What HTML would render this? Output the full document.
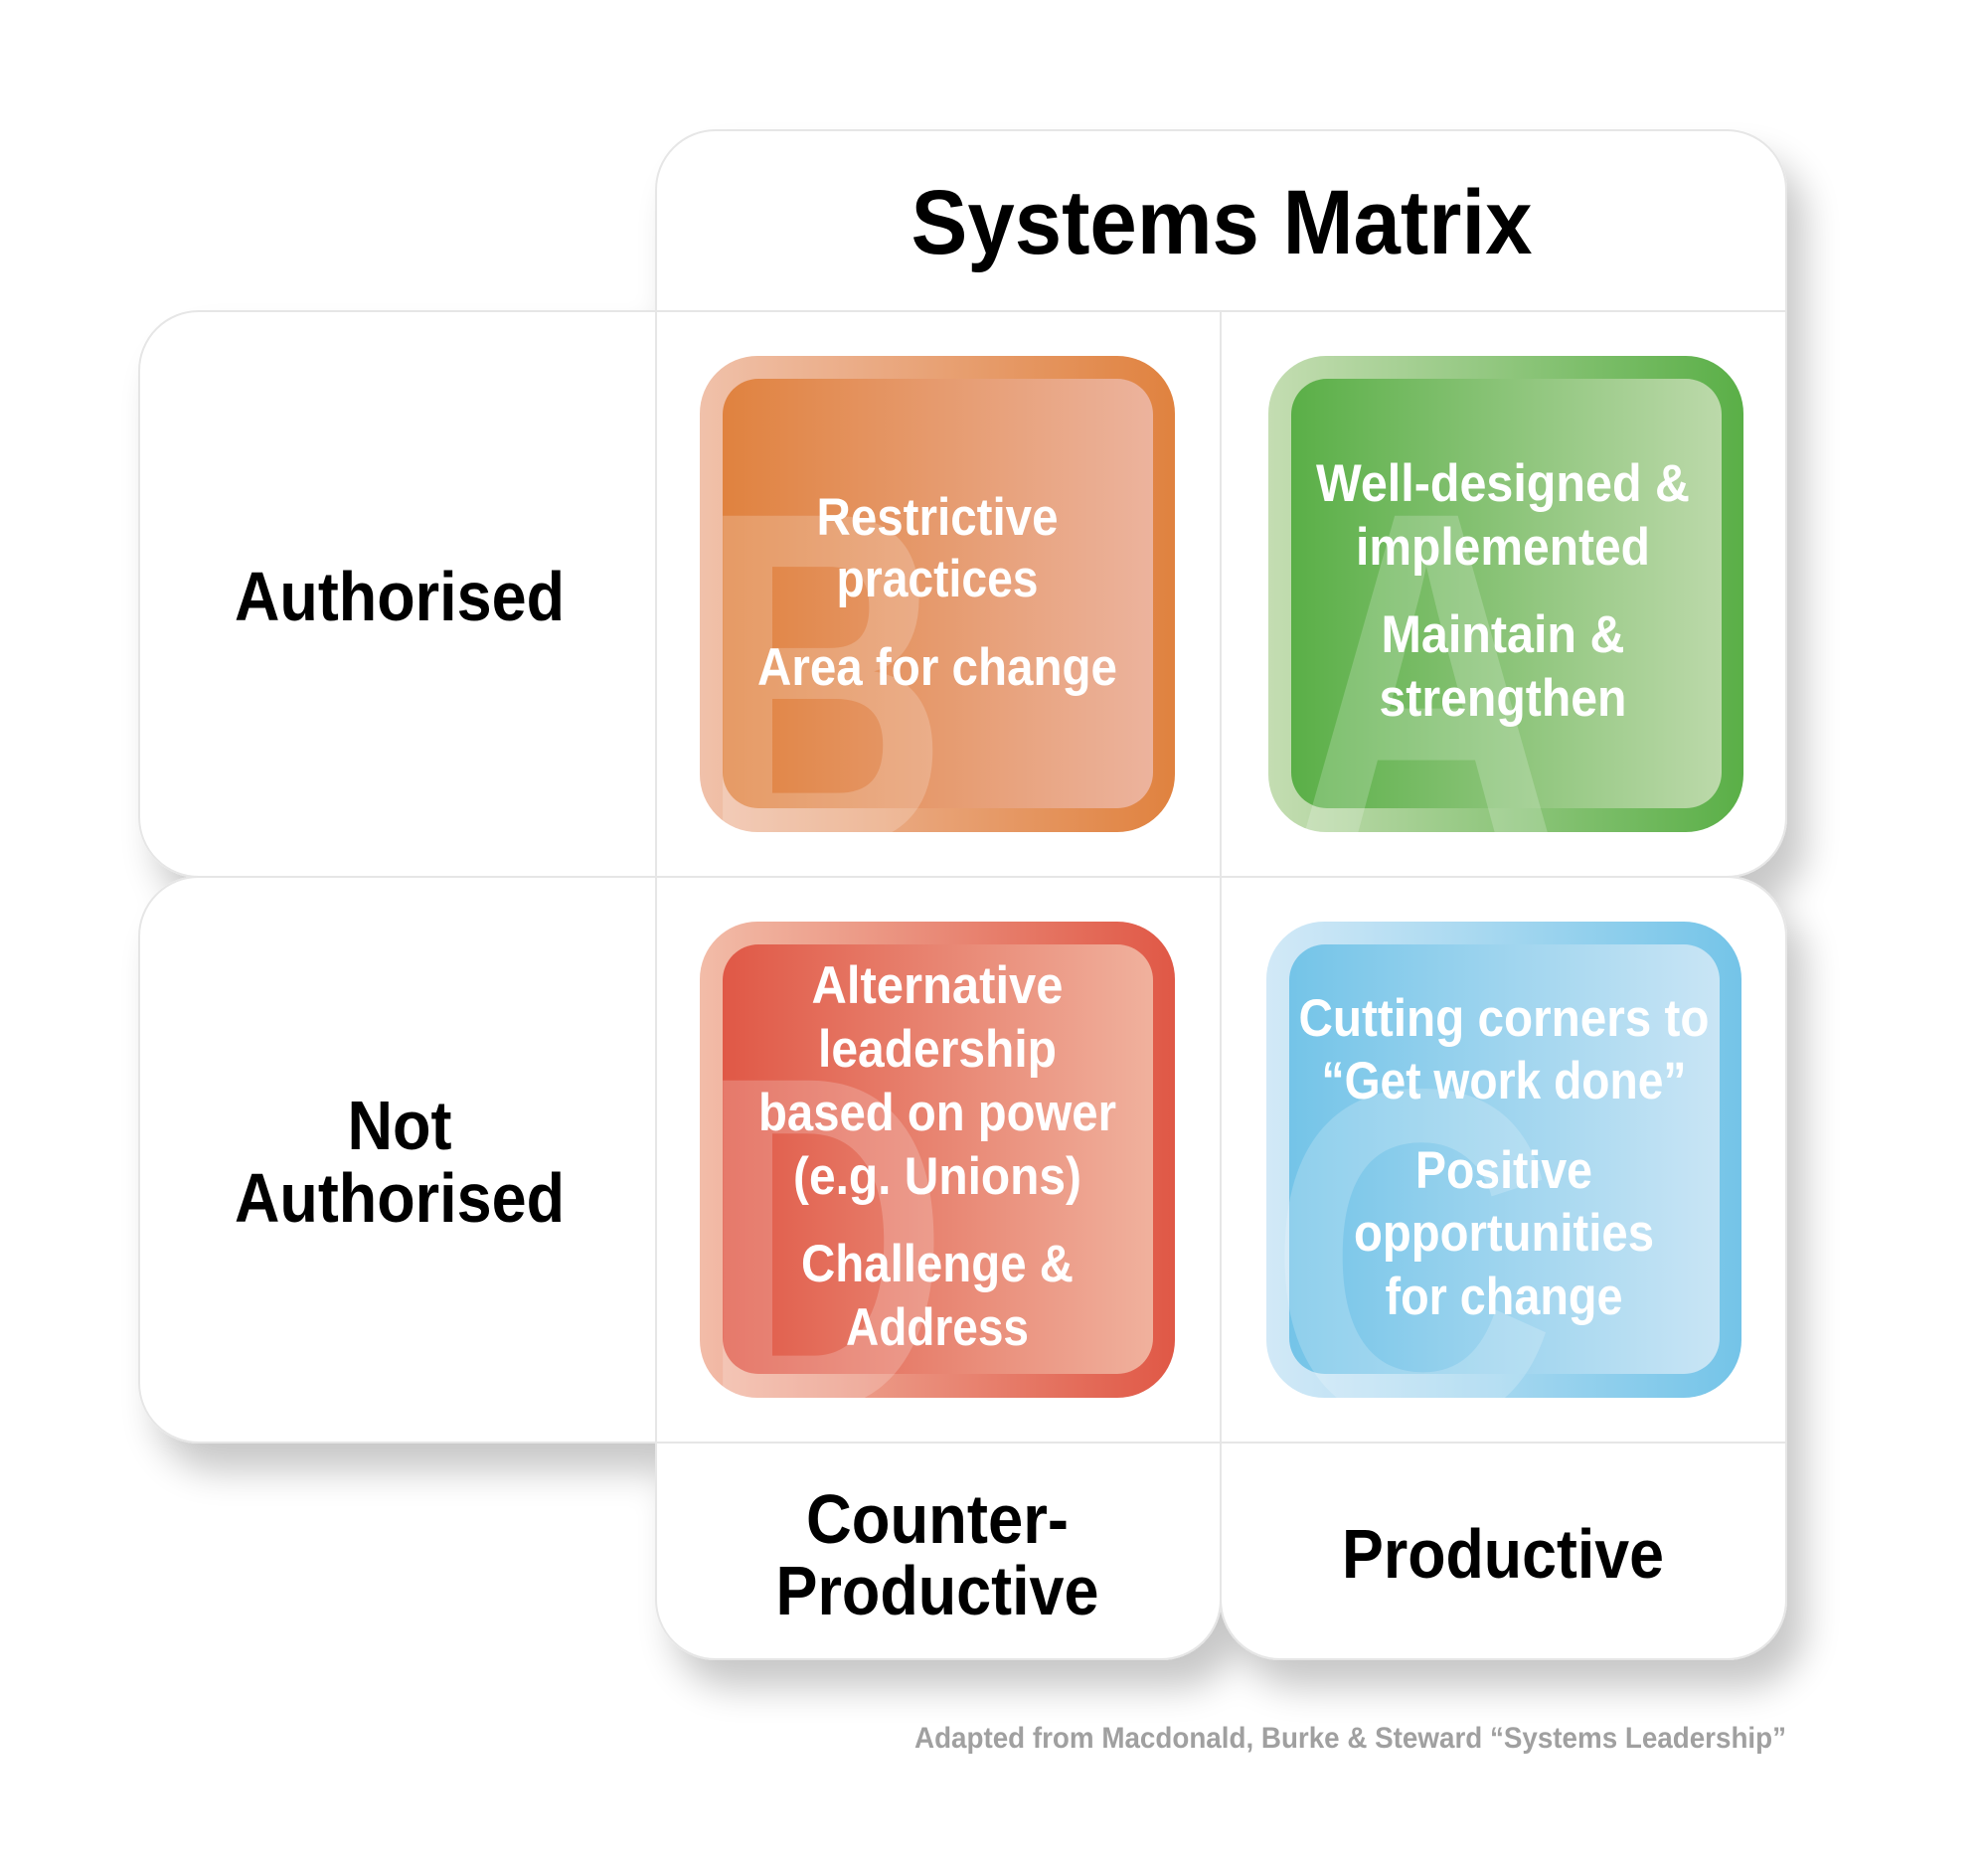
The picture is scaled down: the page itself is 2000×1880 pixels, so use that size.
<!DOCTYPE html>
<html><head><meta charset="utf-8"><style>
html,body{margin:0;padding:0;background:#fff}
svg{display:block}
text{font-family:"Liberation Sans",sans-serif;font-weight:bold}
</style></head><body>
<svg width="2000" height="1880" viewBox="0 0 2000 1880" xmlns="http://www.w3.org/2000/svg">
<defs>
<filter id="sh" x="-10%" y="-10%" width="130%" height="130%">
<feGaussianBlur in="SourceAlpha" stdDeviation="18"/>
<feOffset dx="18" dy="28" result="b"/>
<feComponentTransfer><feFuncA type="linear" slope="0.22"/></feComponentTransfer>
<feMerge><feMergeNode/><feMergeNode in="SourceGraphic"/></feMerge>
</filter>
<linearGradient id="oO" x1="0" x2="1"><stop offset="0" stop-color="#f0c1aa"/><stop offset="1" stop-color="#e0823f"/></linearGradient>
<linearGradient id="oI" x1="0" x2="1"><stop offset="0" stop-color="#e0823f"/><stop offset="1" stop-color="#ecb39d"/></linearGradient>
<linearGradient id="gO" x1="0" x2="1"><stop offset="0" stop-color="#c4ddb2"/><stop offset="1" stop-color="#5aaf47"/></linearGradient>
<linearGradient id="gI" x1="0" x2="1"><stop offset="0" stop-color="#5aaf47"/><stop offset="1" stop-color="#bcd9aa"/></linearGradient>
<linearGradient id="rO" x1="0" x2="1"><stop offset="0" stop-color="#f2bca8"/><stop offset="1" stop-color="#e05846"/></linearGradient>
<linearGradient id="rI" x1="0" x2="1"><stop offset="0" stop-color="#e05846"/><stop offset="1" stop-color="#f0b19d"/></linearGradient>
<linearGradient id="bO" x1="0" x2="1"><stop offset="0" stop-color="#d2e9f7"/><stop offset="1" stop-color="#74c4e8"/></linearGradient>
<linearGradient id="bI" x1="0" x2="1"><stop offset="0" stop-color="#74c4e8"/><stop offset="1" stop-color="#c9e5f5"/></linearGradient>
<clipPath id="c1"><rect x="704" y="358" width="478" height="479" rx="58"/></clipPath>
<clipPath id="c2"><rect x="1276" y="358" width="478" height="479" rx="58"/></clipPath>
<clipPath id="c3"><rect x="704" y="927" width="478" height="479" rx="58"/></clipPath>
<clipPath id="c4"><rect x="1274" y="927" width="478" height="479" rx="58"/></clipPath>
</defs>

<g filter="url(#sh)" fill="#fff" stroke="#e6e6e6" stroke-width="2">
<path d="M660 313 V191 A60 60 0 0 1 720 131 H1737 A60 60 0 0 1 1797 191 V313 Z"/>
<path d="M1228 1451 H660 V1609 A60 60 0 0 0 720 1669 H1168 A60 60 0 0 0 1228 1609 Z"/>
<path d="M1797 1451 H1228 V1609 A60 60 0 0 0 1288 1669 H1737 A60 60 0 0 0 1797 1609 Z"/>
<path d="M200 882 A60 60 0 0 0 140 942 V1391 A60 60 0 0 0 200 1451 H1797 V942 A60 60 0 0 0 1737 882 Z"/>
<path d="M200 313 A60 60 0 0 0 140 373 V822 A60 60 0 0 0 200 882 H1737 A60 60 0 0 0 1797 822 V313 Z"/>
</g>
<line x1="660" y1="313" x2="660" y2="1451" stroke="#e6e6e6" stroke-width="2"/>
<line x1="1228" y1="313" x2="1228" y2="1451" stroke="#e6e6e6" stroke-width="2"/>
<line x1="660" y1="313" x2="1797" y2="313" stroke="#e6e6e6" stroke-width="2"/>

<g fill="#000" text-anchor="middle" font-size="70">
<text x="1229" y="255" font-size="92" textLength="625" lengthAdjust="spacingAndGlyphs">Systems Matrix</text>
<text x="402" y="624" textLength="332" lengthAdjust="spacingAndGlyphs">Authorised</text>
<text x="402" y="1156" textLength="105" lengthAdjust="spacingAndGlyphs">Not</text>
<text x="402" y="1229" textLength="332" lengthAdjust="spacingAndGlyphs">Authorised</text>
<text x="943" y="1552" textLength="264" lengthAdjust="spacingAndGlyphs">Counter-</text>
<text x="943" y="1624" textLength="325" lengthAdjust="spacingAndGlyphs">Productive</text>
<text x="1512" y="1587" textLength="324" lengthAdjust="spacingAndGlyphs">Productive</text>
</g>

<!-- Orange -->
<g clip-path="url(#c1)">
<rect x="704" y="358" width="478" height="479" fill="url(#oO)"/>
<rect x="727" y="381" width="433" height="432" rx="36" fill="url(#oI)"/>
<text x="704" y="849" font-size="480" fill="#fff" fill-opacity="0.2" textLength="250" lengthAdjust="spacingAndGlyphs">B</text>
</g>
<g font-size="53" fill="#fff" text-anchor="middle">
<text x="943" y="538" textLength="243" lengthAdjust="spacingAndGlyphs">Restrictive</text>
<text x="943" y="600" textLength="203" lengthAdjust="spacingAndGlyphs">practices</text>
<text x="943" y="689" textLength="362" lengthAdjust="spacingAndGlyphs">Area for change</text>
</g>

<!-- Green -->
<g clip-path="url(#c2)">
<rect x="1276" y="358" width="478" height="479" fill="url(#gO)"/>
<rect x="1299" y="381" width="433" height="432" rx="36" fill="url(#gI)"/>
<text x="1300" y="849" font-size="480" fill="#fff" fill-opacity="0.2" textLength="270" lengthAdjust="spacingAndGlyphs">A</text>
</g>
<g font-size="53" fill="#fff" text-anchor="middle">
<text x="1512" y="504" textLength="376" lengthAdjust="spacingAndGlyphs">Well-designed &amp;</text>
<text x="1512" y="568" textLength="296" lengthAdjust="spacingAndGlyphs">implemented</text>
<text x="1512" y="656" textLength="245" lengthAdjust="spacingAndGlyphs">Maintain &amp;</text>
<text x="1512" y="720" textLength="249" lengthAdjust="spacingAndGlyphs">strengthen</text>
</g>

<!-- Red -->
<g clip-path="url(#c3)">
<rect x="704" y="927" width="478" height="479" fill="url(#rO)"/>
<rect x="727" y="950" width="433" height="432" rx="36" fill="url(#rI)"/>
<text x="704" y="1417" font-size="480" fill="#fff" fill-opacity="0.2" textLength="250" lengthAdjust="spacingAndGlyphs">D</text>
</g>
<g font-size="53" fill="#fff" text-anchor="middle">
<text x="943" y="1009" textLength="253" lengthAdjust="spacingAndGlyphs">Alternative</text>
<text x="943" y="1073" textLength="240" lengthAdjust="spacingAndGlyphs">leadership</text>
<text x="943" y="1137" textLength="360" lengthAdjust="spacingAndGlyphs">based on power</text>
<text x="943" y="1201" textLength="290" lengthAdjust="spacingAndGlyphs">(e.g. Unions)</text>
<text x="943" y="1289" textLength="274" lengthAdjust="spacingAndGlyphs">Challenge &amp;</text>
<text x="943" y="1353" textLength="184" lengthAdjust="spacingAndGlyphs">Address</text>
</g>

<!-- Blue -->
<g clip-path="url(#c4)">
<rect x="1274" y="927" width="478" height="479" fill="url(#bO)"/>
<rect x="1297" y="950" width="433" height="432" rx="36" fill="url(#bI)"/>
<text x="1276" y="1430" font-size="480" fill="#fff" fill-opacity="0.2" textLength="290" lengthAdjust="spacingAndGlyphs">C</text>
</g>
<g font-size="53" fill="#fff" text-anchor="middle">
<text x="1513" y="1042" textLength="413" lengthAdjust="spacingAndGlyphs">Cutting corners to</text>
<text x="1513" y="1105" textLength="367" lengthAdjust="spacingAndGlyphs">“Get work done”</text>
<text x="1513" y="1195" textLength="178" lengthAdjust="spacingAndGlyphs">Positive</text>
<text x="1513" y="1258" textLength="302" lengthAdjust="spacingAndGlyphs">opportunities</text>
<text x="1513" y="1322" textLength="239" lengthAdjust="spacingAndGlyphs">for change</text>
</g>

<text x="1797" y="1758" font-size="30" text-anchor="end" fill="#a0a0a0" textLength="877" lengthAdjust="spacingAndGlyphs">Adapted from Macdonald, Burke &amp; Steward “Systems Leadership”</text>
</svg>
</body></html>
